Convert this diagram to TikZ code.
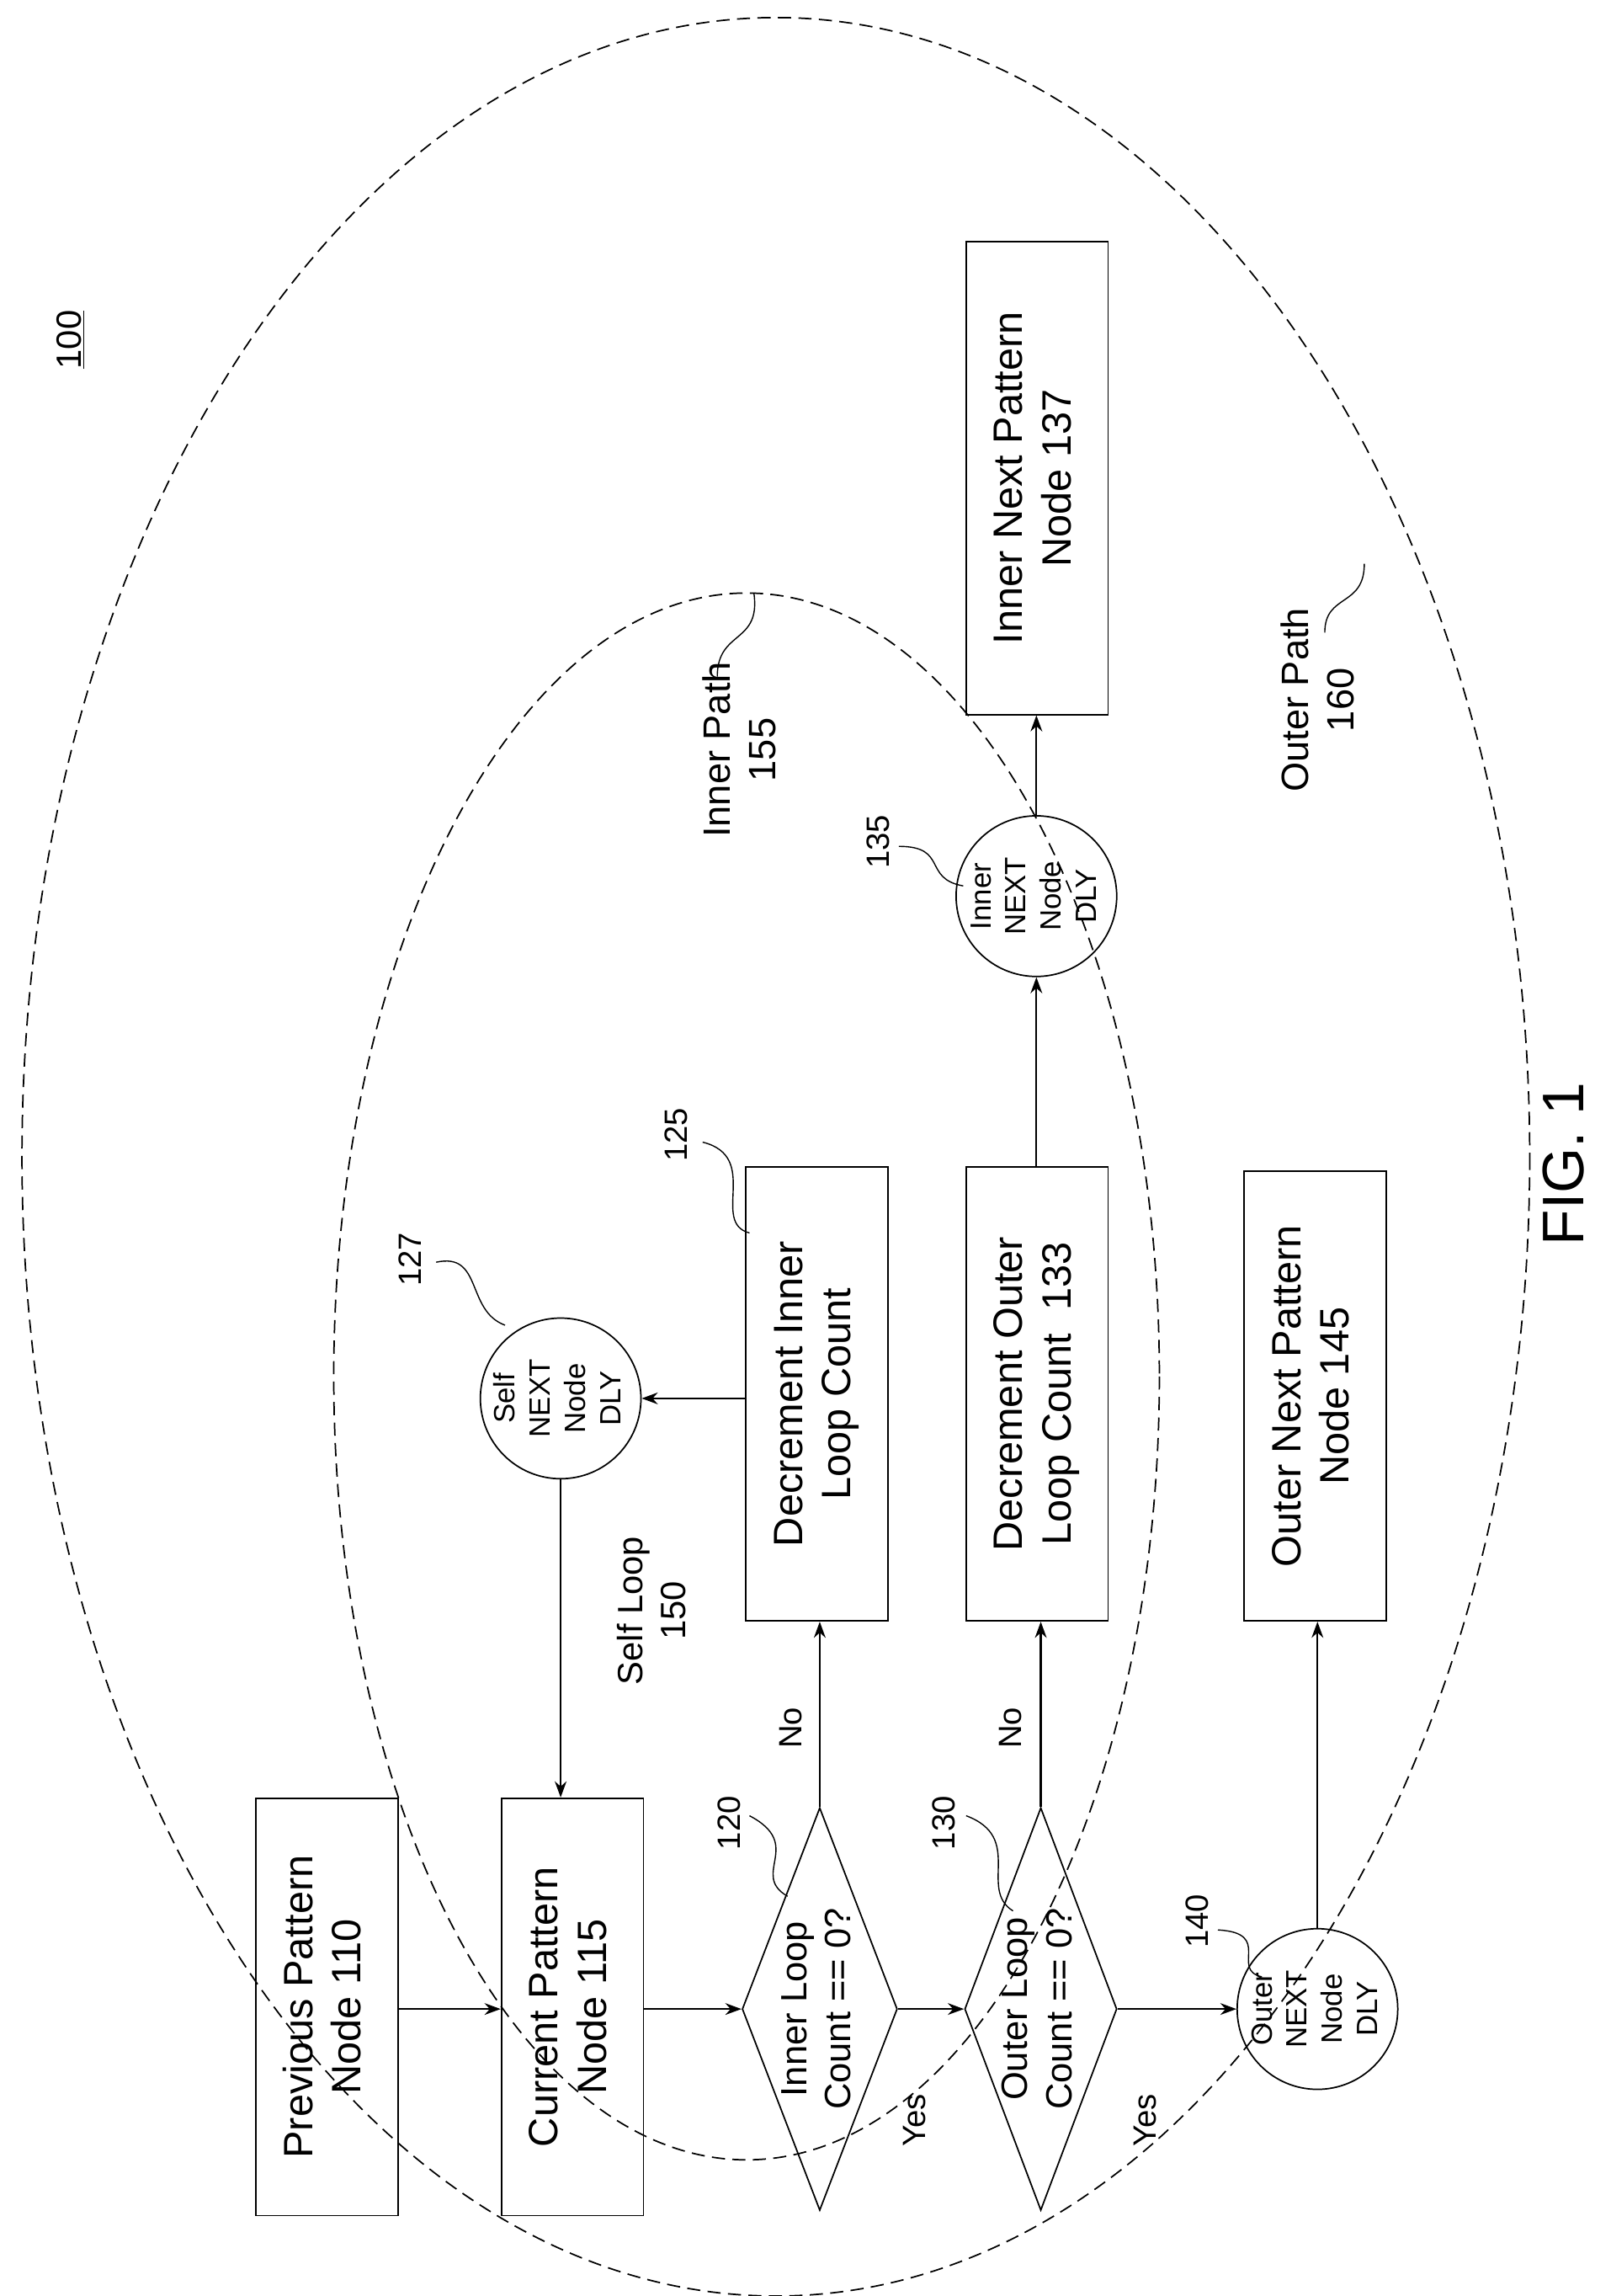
\documentclass[tikz,border=0pt]{standalone}
\usepackage{fontspec}
\setmainfont{Liberation Sans}
\usetikzlibrary{arrows.meta,shapes.geometric}
\newcommand{\rt}[1]{\rotatebox{90}{\begin{tabular}{@{}c@{}}#1\end{tabular}}}
\begin{document}
\begin{tikzpicture}[x=1pt,y=-1pt,
 box/.style={draw,line width=1pt,minimum width=97pt,align=center,font=\fontsize{28}{33}\selectfont,inner sep=0pt},
 circ/.style={draw,circle,line width=1pt,minimum size=104pt,align=center,font=\fontsize{20}{24}\selectfont,inner sep=0pt},
 dia/.style={draw,diamond,line width=1pt,minimum height=275pt,inner sep=0pt,aspect=0.38},
 dtxt/.style={font=\fontsize{25}{30}\selectfont,inner sep=0pt},
 lab/.style={rotate=90,font=\fontsize{22}{26}\selectfont,align=center},
 arr/.style={line width=1.3pt,-{Stealth[length=11pt,width=8pt]}},
 sq/.style={line width=0.8pt},
 dsh/.style={dashed,dash pattern=on 9pt off 5pt,line width=1pt}]
\useasboundingbox (0,0) rectangle (1100,1568);
\coordinate (r) at (0,1372);
% ellipses
\draw[dsh] (530,790) ellipse [x radius=515, y radius=778];
\draw[dsh] (510,940) ellipse [x radius=282, y radius=535];
% nodes
\node[box,minimum height=285pt] (p110) at (223.5,1370.5) {\rt{Previous Pattern\\Node 110}};
\node[box,minimum height=285pt] (c115) at (391,1370.5) {\rt{Current Pattern\\Node 115}};
\node[dia,minimum width=106pt] (d120) at (560,1372) {};
\node[dtxt] (t120) at (d120) {\rt{Inner Loop\\Count == 0?}};
\node[dia,minimum width=104pt] (d130) at (711,1372) {};
\node[dtxt] (t130) at (d130) {\rt{Outer Loop\\Count == 0?}};
\node[circ] (o140) at (900,1372) {\rt{Outer\\NEXT\\Node\\DLY}};
\node[box,minimum height=307pt] (n145) at (898.5,953.5) {\rt{Outer Next Pattern\\Node 145}};
\node[box,minimum height=310pt] (d125) at (558,952) {\rt{Decrement Inner\\Loop Count}};
\node[box,minimum height=310pt] (d133) at (708.5,952) {\rt{Decrement Outer\\Loop Count~~133}};
\node[circ] (s127) at (383,955) {\rt{Self\\NEXT\\Node\\DLY}};
\node[circ] (i135) at (708,612) {\rt{Inner\\NEXT\\Node\\DLY}};
\node[box,minimum height=323pt] (n137) at (708.5,326.5) {\rt{Inner Next Pattern\\Node 137}};
% arrows
\draw[arr] (p110.east |- r) -- (c115.west |- r);
\draw[arr] (c115.east |- r) -- (d120.west);
\draw[arr] (d120.east) -- (d130.west);
\draw[arr] (d130.east) -- (o140.west);
\node[lab] (y1) at (625,1448) {Yes};
\node[lab] (y2) at (782,1448) {Yes};
\draw[arr] (d120.north) -- (d125.south -| d120.north);
\draw[arr] (d130.north) -- (d133.south -| d130.north);
\node[lab] (no1) at (540,1180) {No};
\node[lab] (no2) at (690,1180) {No};
\draw[arr] (d125.west |- s127) -- (s127.east);
\draw[arr] (s127.south) -- (c115.north -| s127.south);
\node[lab,font=\fontsize{24}{29}\selectfont] (sl) at (445,1100) {Self Loop\\150};
\draw[arr] (d133.north -| i135) -- (i135.south);
\draw[arr] (i135.north) -- (n137.south -| i135.north);
\draw[arr] (o140.north) -- (n145.south -| o140.north);
% labels with squiggles
\node[lab] (l127) at (280,860) {127};
\draw[sq] (298,862) .. controls (330,855) and (318,895) .. (345,905);
\node[lab] (l125) at (462,775) {125};
\draw[sq] (480,780) .. controls (520,790) and (485,835) .. (512,842);
\node[lab] (l120) at (498,1245) {120};
\draw[sq] (512,1240) .. controls (550,1260) and (512,1280) .. (538,1295);
\node[lab] (l130) at (645,1245) {130};
\draw[sq] (660,1240) .. controls (700,1255) and (668,1290) .. (692,1305);
\node[lab] (l140) at (818,1312) {140};
\draw[sq] (832,1318) .. controls (870,1320) and (840,1345) .. (862,1350);
\node[lab] (l135) at (600,575) {135};
\draw[sq] (614,578) .. controls (648,578) and (630,600) .. (658,605);
\node[lab,font=\fontsize{26}{31}\selectfont] (ip) at (505,512) {Inner Path\\155};
\draw[sq] (490,462) .. controls (490,430) and (520,440) .. (515,405);
\node[lab,font=\fontsize{26}{31}\selectfont] (op) at (900,478) {Outer Path\\160};
\draw[sq] (905,432) .. controls (905,405) and (932,415) .. (932,385);
\node[lab,font=\fontsize{40}{46}\selectfont] (fig) at (1068,795) {FIG. 1};
\node[lab,font=\fontsize{24}{28}\selectfont] (n100) at (48,232) {\underline{100}};
\end{tikzpicture}
\end{document}
